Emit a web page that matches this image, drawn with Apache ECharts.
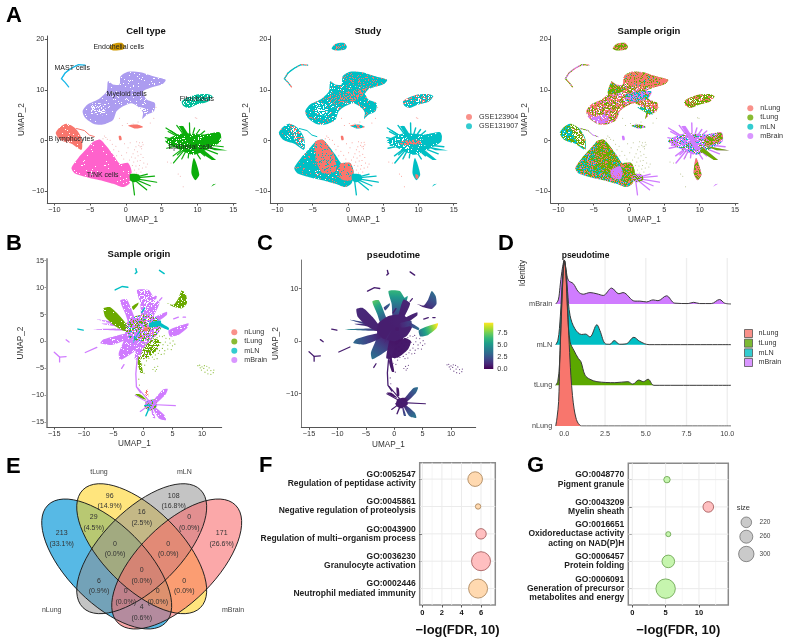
<!DOCTYPE html>
<html><head><meta charset="utf-8">
<style>html,body{margin:0;padding:0;background:#fff}#c{width:789px;height:638px}</style>
<script src="https://cdn.jsdelivr.net/npm/echarts@6/dist/echarts.min.js"></script>
</head><body><div id="c"></div>
<script>
// ---------- colours ----------
const cRed='#F8766D',cGreen='#6BAA00',cTeal='#00BFC4',cPurple='#D07CFF',white='#ffffff',none='rgba(255,255,255,0)';
// ---------- panel A: UMAP outlines (UMAP_1, UMAP_2) ----------
const myeloidOutline=[[-6.05,5.8],[-5.4,7.1],[-3.9,8.1],[-2.7,9.7],[-2.5,11.7],[-1.8,11.1],[-0.9,11.1],[-0.75,12.7],[0.3,13.6],[2,13.5],[4.05,12.6],[5.55,12],[5.2,11.25],[3.35,10.4],[2.4,9.7],[2.9,8.1],[4.05,7.4],[3.9,5.8],[2.9,5.1],[2.3,4.3],[2.4,5.5],[2,6.4],[0.8,7.4],[-0.4,6.8],[-1.3,5.8],[-1.8,4.1],[-3.2,3.2],[-4.55,3.35],[-5.7,4.5]];
const myeloidBand=[[-3,8.4],[-1,9.6],[1.5,10.2],[3,10.6],[2.4,9.3],[1.2,8],[-0.5,7.6],[-2,7.2]];
const myeloidUpper=[[-0.7,12.6],[0.3,13.5],[2,13.4],[4,12.6],[5.5,12],[5.1,11.3],[3.3,10.5],[1.5,10.6],[0,11.2]];
const myeloidLowerLeft=[[-5.8,5.2],[-4.6,4.8],[-3.4,5.2],[-2.8,4.2],[-3.4,3.4],[-4.6,3.5],[-5.6,4.5]];
const myeloidCentre=[[-0.5,9],[1,9.6],[3.2,9.7],[2.6,8.2],[1,7.7],[-0.3,7.8]];
const myeloidUpperLeft=[[-3,9.3],[-2.5,11.5],[-1.6,10.8],[-0.4,10.2],[-1.8,9.2]];
const myeloidHoles=[[-4.9,7.2],[-3.6,7.4],[-2.8,6.3],[-3.2,5],[-4.4,5.4]];
const myeloidTail=[[1.2,6.6],[2.6,6.4],[3.4,5.2],[2.6,5.4]];
const tnkOutline=[[-7.6,-5.4],[-6.65,-3.4],[-5.4,-1.45],[-4.65,-0.3],[-3.6,0.2],[-2.7,-1.1],[-1.8,-2.75],[-0.85,-4.55],[0.3,-4.4],[0.8,-6.05],[0.55,-8.35],[-0.35,-9.15],[-1.8,-8.5],[-3.6,-7.8],[-5.5,-7.2],[-7.1,-6.5]];
const tnkLobe=[[-4.7,-0.3],[-3.6,0.2],[-2.7,-1.1],[-1.9,-3],[-1.7,-6],[-3.5,-6.5],[-4.5,-4]];
const tnkLobe2=[[-1.2,-4.7],[0.3,-4.4],[0.8,-6.05],[0.5,-7.8],[-1,-7.5]];
const tnkPatch=[[-2.6,-5.9],[-1.3,-5],[-0.9,-6.2],[-1.2,-7.6],[-2.4,-7.2]];
const bOutline=[[-9.8,1.5],[-9.2,2.7],[-8.3,3.35],[-7.1,2.5],[-6.2,0.5],[-6.2,-1.8],[-7.6,-0.6],[-9.2,0.2]];
const bRight=[[-8.3,3.3],[-7.2,2.5],[-6.3,0.5],[-6.3,-1.5],[-7.4,-0.2],[-8,1.6]];
const bHook=[[-6.9,2.4],[-5.8,2],[-5.1,1.1],[-4.4,0.8]];
const endoOutline=[[-2.3,18.15],[-1.75,19.1],[-0.6,19.3],[-0.15,18.6],[-0.4,18],[-1.75,17.8]];
const mastArc=[[-5.7,14.9],[-6.65,15],[-7.6,14.3],[-8.5,13.35],[-9,12.25],[-8.5,11.5],[-8,10.6]];
const mastArcInner=[[-9,12.2],[-8.2,13.8],[-7,14.8]];
const fibroOutline=[[7.8,7.75],[8.5,8.4],[9.9,9.1],[11.3,9.2],[12.1,8.75],[11.5,7.75],[9.9,7.1],[8.75,6.45],[8,6.9]];
const epiHub=[[5.5,-0.1],[7.8,1.4],[10.8,1.2],[13.1,1.6],[13.25,-0.1],[11.8,-1.4],[9.44,-2.8],[7.57,-1.8]];
const epiRightBlob=[[10.6,0.4],[12.1,1],[12.9,1.7],[13.3,0.8],[12.9,-0.1],[11,-1]];
const epiThick=[[7.4,2.9],[8,2.9],[10.1,-1.7],[9.4,-2]];
const epiRightWedge=[[10.5,-0.9],[14.2,-1.95],[12.4,-1.9]];
const epiLowWedge=[[10.5,-1.4],[12.6,-3.8],[12,-3.8],[10,-2]];
const epiTeardrop=[[9.5,-3.4],[9.15,-6.4],[9.7,-7.8],[10.25,-6.7]];
const epiSpikeEnds=[[5.6,2.5],[6.2,2],[7.1,3],[7.8,2.8],[8.88,3.5],[9.6,2.5],[10.3,2.2],[11,1.9],[6.6,-3],[6.65,-4.4],[7.8,-3.6],[5.7,-1.5],[5.9,1.8],[11,-3],[10.4,-3.6],[8.7,-3.4],[7.2,-2.8],[5.5,0.6],[6,-0.9],[13.6,-1.2],[12.8,-2.6]];
const epiHubCentre=[8.95,-0.5];
const tHub=[[0.6,-6.6],[1.8,-6.7],[2,-7.7],[1.1,-8.2],[0.6,-7.8]];
const tHubCentre=[0.9,-7.4];
const tSpikeEnds=[[4,-7],[4.3,-8.2],[2.9,-9.7],[1.2,-10.7],[3,-6.6],[3.4,-8.9]];
const tinyWedge=[[0.3,3],[1.3,2.4],[2.4,2.7],[1.6,3.2]];
const tinyDot=[[-1,0.9],[-0.7,0.9],[-0.6,0.2],[-0.9,0.1]];
const tinyStrip=[[11.9,-9.1],[12.6,-8.5],[12.2,-8.6]];
const strayCellsA=[[1.2,-1.8],[1.6,-2.2],[2,-1.2],[2.2,-1.6],[1.8,-0.9],[1.4,-1.2],[2.4,-0.8],[1,-2.6],[0.8,-3.2],[1.3,-3.4],[1.7,-3],[2.1,-2.7],[0.5,-3.8],[1.1,-4.2],[1.6,-4],[2,-3.9],[2.4,-3.3],[0.9,-4.9],[1.4,-5],[1.9,-4.9],[2.5,-4.4],[1.2,-5.8],[1.8,-5.6],[2.3,-5.4],[2.8,-5.2],[3,-4.6],[1.5,-6.4],[2.1,-6.2],[-2.2,0.1],[-1.9,-0.7],[-1.4,-1.1],[-1.7,-1.8],[-1,-2.1],[-0.6,-2.9],[-1.3,-3],[-0.3,-3.6],[0.1,-2.4],[0.3,-1.4],[-0.2,-0.6],[0.6,-0.4],[-0.5,3],[0.2,3.4],[1,3.3],[1.7,3.7],[-0.9,4.4],[3.9,4.4],[3.4,3.5],[4.2,6.6],[5.8,-4.2],[6.3,-4.4],[7.6,-7],[8,-9.1],[7.3,-6.6],[9.7,4.5],[9.9,4.4],[8,-3.2],[1.5,-0.2],[1.9,-0.4],[2.2,-1.1],[2.3,-0.3],[-3,0.9],[-2.8,0.6],[-3.2,0.4],[-2.6,0.3]];
const cellTypeLabels=[[-1,18.55,'Endothelial cells'],[-7.5,14.35,'MAST cells'],[0.1,9.1,'Myeloid cells'],[9.9,8.3,'Fibroblasts'],[-7.65,0.3,'B lymphocytes'],[9.05,-1.25,'Epithelial cells'],[-3.25,-6.8,'T/NK cells']];
const studyNames=['GSE123904','GSE131907'];
const originNames=['nLung','tLung','mLN','mBrain'];
// ---------- panels B, C: outlines ----------
const upWedge=[[-1,9.55],[1,9.55],[1.8,8.3],[2.4,8.6],[1.5,5.2],[0.7,4],[-0.2,4],[-0.45,7.1]];
const upLeftWedge=[[-3.85,7.6],[-2.7,7.8],[-1.3,4.3],[-0.45,3.4],[-2.1,2.75],[-3,5.2]];
const lowLeftWedge=[[-2.7,2.45],[-0.2,2.15],[-0.45,-0.95],[-1.85,-2.2],[-3.85,-3.45],[-4.1,-2.2],[-3.3,0]];
const lowLeftStrip=[[-7.2,-0.35],[-6.65,0.4],[-2.7,1.5],[-2.4,0.6],[-5.25,-0.65]];
const rightWedge=[[7.7,3.4],[7.45,2.45],[6,1.2],[4.6,0.9],[4.35,2.1]];
const upRightWedge=[[1.6,7.9],[2.8,7.2],[1.6,4.4],[0.6,3.8]];
const rightUpWedge=[[1.25,4],[4.05,5.5],[4.05,4.9],[1.5,3.05]];
const lowMidWedge=[[-0.4,1.5],[1.6,1.5],[1.2,-1],[-0.6,-3.4],[-1.4,-3.2]];
const core=[[-2.8,3.4],[-1,4.8],[1.6,5],[3.2,3],[2.2,1],[0,0],[-2,0.5],[-3,1.8]];
const leftSpike1=[[-8.6,2.25],[-3,2.4],[-3,2]];
const leftSpike2=[[-7.8,4.1],[-2.7,3.1],[-2.7,2.5]];
const leftSpike4=[[-7,3.3],[-3,2.6],[-3,3.1]];
const bigGreenWedge=[[-6.65,6.15],[-5.5,6.35],[-3.8,4.6],[-2.7,3.05],[-2.1,1.8],[-3.5,2.1],[-4.95,3.05],[-6.4,4.6]];
const farGreenLobe=[[6.6,9.55],[7.3,8.6],[7.45,7.1],[6.6,6.15],[5.2,6.45],[4.05,7.1],[5.2,6.8],[6,8]];
const smallGreen=[[-1.85,6.45],[-0.75,7.25],[-0.85,6.75],[-1.6,5.85]];
const greenMid=[[-0.45,-3.1],[0.1,-1.3],[1.8,0.6],[2.95,0],[2.4,-1.6],[0.7,-3.1]];
const tealBar=[[1,3.4],[3,3.9],[3,3],[1.2,2.6]];
const tealStub=[[-0.4,2.3],[-0.6,1.8],[-1.7,-0.4],[-1.5,0.4]];
const tealStub2=[[2.6,3],[4.3,2.1],[4.4,2.5],[2.8,3.5]];
const tealStreaks=[[[-1.1,13],[-1.2,13.5]],[[-1.3,12.6],[-1,12.9]],[[2.8,13.2],[3.6,12.6]],[[-4.7,9.55],[-3.5,10.2],[-2.55,10.05]],[[-11,2.3],[-10.1,2.1]],[[1.2,-11.8],[0.3,-11.9]],[[0.5,-13.8],[1,-12.5]],[[0.3,6.2],[-0.2,5.4]]];
const brainStreaks=[[[-15,-2],[-14.1,-2.9],[-13,-2.8]],[[-14.1,-2.9],[-14.1,-3.8]],[[-9.75,-2.05],[-7.8,-1.1]],[[-13,0.3],[-12.5,-0.1]],[[-3.6,-5],[-3.2,-4.3]],[[5.2,4.2],[6,4.5]],[[6.8,4.5],[7.2,4.5]],[[2.8,7.6],[3.2,8.1]],[[-1,-3.5],[-1.2,-6],[-1.1,-8.4],[-0.4,-9.5]]];
const star1=[[1.4,-11.5],[3.4,-8.9],[4.2,-8.8],[3.8,-9.9],[1.7,-12]];
const star2=[[1.4,-11.7],[2.7,-14.3],[3.9,-14.6],[3.6,-13.6]];
const star3=[[1.3,-11.7],[1.7,-14.2],[2.1,-14.2]];
const starHub=[[0.6,-11],[2,-10.8],[2.4,-12],[1.2,-12.8],[0.3,-12.2]];
const starSpikes=[[[1.4,-11.7],[5.5,-11.9]],[[1.2,-11.7],[-0.45,-13]],[[1.4,-11.5],[-0.9,-8.6]],[[1.2,-11.5],[-1.3,-10]]];
const greenStalk=[[-0.6,-2.4],[-0.3,-4],[0,-5.8],[-0.4,-5.8],[-0.9,-4]];
const greenStarBit=[[-1.3,-9.8],[-0.5,-9.8],[0.6,-10.8],[-0.2,-10.6]];
const redStarBit=[[0.4,-8.8],[0.8,-9],[0.9,-10.4],[0.5,-10.4]];
const redCoreBit=[[0.2,2.6],[0.8,2.6],[0.8,2],[0.2,2]];
const sparseCells=[[0.4,-0.5],[0.8,-1.1],[1.3,-0.4],[1.7,-0.9],[2.1,-0.2],[2.6,-0.7],[3,-0.2],[3.4,-0.6],[3.8,-0.1],[4.2,-0.7],[4.6,-0.3],[5,-0.8],[5.4,-0.5],[5.1,0.1],[4.5,0.5],[3.9,0.6],[3.3,0.9],[2.8,1],[2.4,0.7],[1.9,0.3],[0.9,0.2],[3.6,1.1],[0.3,-1.5],[0.8,-1.9],[1.3,-1.5],[1.8,-1.8],[2.3,-1.4],[2.8,-1.7],[3.3,-1.3],[3.7,-1.7],[4.2,-1.4],[4.8,-1.5],[0.2,-2.4],[0.7,-2.8],[1.2,-2.4],[1.6,-2.9],[2.1,-2.5],[2.6,-2.2],[3.1,-2.4],[3.6,-2.3],[0.1,-3.2],[0.6,-3.6],[1,-3.1],[1.9,-3.3],[2.4,-3.2],[-0.2,-4.2],[0.3,-4.4],[-0.5,-5],[2,-4.8],[2.3,-5.2],[2.5,-4.6],[2.1,-5.5],[1.7,-5.2],[-0.3,-5.4],[0.2,-5.9],[-0.7,-7],[-0.6,-8.1],[9.3,-4.5],[9.6,-4.4],[10,-4.7],[10.4,-4.5],[9.7,-4.9],[10.3,-5],[10.8,-4.6],[11.2,-4.9],[11.5,-5.4],[11.9,-5.8],[11.5,-6.1],[11,-6],[10.5,-5.7],[10.9,-5.3],[9.9,-5.3],[12,-5.3]];
// ---------- panel D: ridge densities ----------
const ridgeNLung=[[-0.53,0],[-0.45,0.2],[-0.35,0.6],[-0.28,1.6],[-0.2,2.6],[-0.1,3.6],[0,4.08],[0.1,3.75],[0.2,2.9],[0.3,2],[0.4,1.25],[0.5,0.75],[0.6,0.42],[0.7,0.22],[0.8,0.1],[0.95,0.02],[1.05,0],[10.23,0]];
const ridgeTLung=[[-0.53,0],[-0.4,0.1],[-0.3,0.5],[-0.2,1.5],[-0.1,2.5],[0,3.08],[0.1,2.7],[0.2,1.8],[0.35,1.07],[0.6,0.85],[0.86,0.66],[1.02,0.58],[1.27,0.25],[1.57,0.15],[2,0.09],[3.1,0.065],[3.9,0.09],[4.2,0.03],[4.57,0.13],[4.85,0.09],[5.14,0.15],[5.5,0],[10.23,0]];
const ridgeMLN=[[-0.53,0],[-0.4,0.1],[-0.3,0.4],[-0.2,1],[-0.1,1.7],[0,2.07],[0.1,1.85],[0.2,1.3],[0.35,0.72],[0.65,0.39],[1.06,0.25],[1.3,0.26],[1.57,0.19],[2,0.49],[2.18,0.35],[2.53,0.02],[2.8,0.01],[3.06,0.1],[3.4,0.01],[3.8,0.02],[4.27,0.18],[4.63,0.08],[5.2,0],[10.23,0]];
const ridgeMBrain=[[-0.53,0],[-0.37,0.1],[-0.27,0.4],[-0.15,0.8],[0,1.07],[0.1,0.85],[0.25,0.58],[0.55,0.5],[0.86,0.3],[1.16,0.24],[1.57,0.28],[2,0.25],[2.39,0.21],[2.9,0.39],[3.35,0.25],[3.6,0.28],[4.33,0.07],[4.63,0.07],[5.04,0.05],[5.45,0.1],[5.75,0.08],[6.27,0.2],[6.78,0.02],[7.6,0.01],[7.94,0.04],[8.3,0.01],[9.02,0.01],[9.53,0.11],[9.84,0.02],[10.23,0]];
// ---------- panel E: Venn counts ----------
const vennRegionText=['213\n(33.1%)','96\n(14.9%)','29\n(4.5%)','108\n(16.8%)','16\n(2.5%)','0\n(0.0%)','171\n(26.6%)','0\n(0.0%)','0\n(0.0%)','0\n(0.0%)','6\n(0.9%)','0\n(0.0%)','0\n(0.0%)','0\n(0.0%)','4\n(0.6%)'];
const vennSets=['nLung','tLung','mLN','mBrain'];
// ---------- panels F, G: enrichment ----------
const fTerms=['GO:0052547\nRegulation of peptidase activity','GO:0045861\nNegative regulation of proteolysis','GO:0043900\nRegulation of multi\u2212organism process','GO:0036230\nGranulocyte activation','GO:0002446\nNeutrophil mediated immunity'];
const fFdr=[5.4,5.7,6.0,6.0,5.7];
const fSize=[287,133,217,360,360];
const gTerms=['GO:0048770\nPigment granule','GO:0043209\nMyelin sheath','GO:0016651\nOxidoreductase activity\nacting on NAD(P)H','GO:0006457\nProtein folding','GO:0006091\nGeneration of precursor\nmetabolites and energy'];
const gFdr=[5.2,11.4,5.4,5.4,5.0];
const gSize=[150,220,127,253,367];
const sizeLegendValues=[220,260,300];
const pseudotimeTicks=[0,2.5,5,7.5];
// ------------------------------------------------------------------
const sans='"Liberation Sans",Arial,sans-serif';
const tileCache={};
function tile(mix){
  const key=JSON.stringify(mix); if(tileCache[key])return tileCache[key];
  const n=61,cv=document.createElement('canvas');cv.width=cv.height=n;const x=cv.getContext('2d');
  let state=key.length*7919+17;
  const total=mix.reduce((a,m)=>a+m[1],0);
  for(let i=0;i<n;i++)for(let j=0;j<n;j++){
    state^=state<<13;state^=state>>>17;state^=state<<5;state|=0;
    let u=((state>>>0)%10000)/10000*total,k=0;
    while(k<mix.length-1&&u>mix[k][1]){u-=mix[k][1];k++;}
    x.fillStyle=mix[k][0];x.fillRect(i,j,1,1);
  }
  return tileCache[key]={image:cv,repeat:'repeat'};
}
const paint=m=>Array.isArray(m)?tile(m):m;
const series=[];
function poly(g,pts,fill,smooth){
  series.push({type:'custom',coordinateSystem:'cartesian2d',xAxisIndex:g,yAxisIndex:g,silent:true,clip:false,
    data:[pts[0]],encode:{x:0,y:1},renderItem:(p,api)=>({type:'polygon',shape:{points:pts.map(q=>api.coord(q)),smooth:smooth===undefined?0.25:smooth},style:{fill:paint(fill),stroke:null}})});
}
function stroke(g,pts,col,w){
  series.push({type:'custom',coordinateSystem:'cartesian2d',xAxisIndex:g,yAxisIndex:g,silent:true,clip:false,
    data:[pts[0]],encode:{x:0,y:1},renderItem:(p,api)=>({type:'polyline',shape:{points:pts.map(q=>api.coord(q))},style:{fill:null,stroke:paint(col),lineWidth:w,lineCap:'round'}})});
}
function spikes(g,c,ends,col,w){ends.forEach(e=>stroke(g,[c,e],col,w));}
function dots(g,pts,col,size){series.push({type:'scatter',xAxisIndex:g,yAxisIndex:g,silent:true,data:pts,symbolSize:size,itemStyle:{color:col}});}
function texts(g,rows,font,col,lh){
  series.push({type:'custom',coordinateSystem:'cartesian2d',xAxisIndex:g,yAxisIndex:g,silent:true,clip:false,z:5,
    data:rows.map(r=>[r[0],r[1]]),encode:{x:0,y:1},renderItem:(p,api)=>{const c=api.coord(rows[p.dataIndex]);
      return {type:'text',x:c[0],y:c[1],style:{text:rows[p.dataIndex][2],font:font,fill:col,align:'center',verticalAlign:'middle',lineHeight:lh||undefined}};}});
}
function rules(g,xs,ys,xr,yr,col,w){
  const rows=xs.map(v=>[v,yr[0],v,yr[1]]).concat(ys.map(v=>[xr[0],v,xr[1],v]));
  series.push({type:'custom',coordinateSystem:'cartesian2d',xAxisIndex:g,yAxisIndex:g,silent:true,clip:false,
    data:rows.map(r=>[r[0],r[1]]),encode:{x:0,y:1},renderItem:(p,api)=>{const r=rows[p.dataIndex],a=api.coord([r[0],r[1]]),b=api.coord([r[2],r[3]]);
      return {type:'line',shape:{x1:a[0],y1:a[1],x2:b[0],y2:b[1]},style:{stroke:col,lineWidth:w}};}});
}
function legendStub(g,name,col){series.push({type:'scatter',name,data:[],xAxisIndex:g,yAxisIndex:g,itemStyle:{color:col}});}

// ---------- axes / grids ----------
const grids=[],xAxes=[],yAxes=[];
const minus=v=>String(v).replace('-','\u2212');
function axisCommon(ticks,lineCol,lineW,name,gap){
  return {type:'value',name:name,nameLocation:'middle',nameGap:gap,nameTextStyle:{fontFamily:sans,fontSize:8.2,color:'#333'},
    splitLine:{show:false},axisLine:{show:true,onZero:false,lineStyle:{color:lineCol||'#555',width:lineW||1}},
    axisTick:{show:true,length:2.5,customValues:ticks,lineStyle:{color:lineCol||'#555'}},
    axisLabel:{customValues:ticks,formatter:minus,fontFamily:sans,fontSize:7.3,color:'#333',margin:3,showMinLabel:true,showMaxLabel:true}};
}
function umapGrid(l,r,t,b,xr,yr,xt,yt,yName,yGap,yLine,yW){
  grids.push({left:l,top:t,width:r-l,height:b-t,show:false});
  xAxes.push(Object.assign(axisCommon(xt,'#555',1,'UMAP_1',13),{min:xr[0],max:xr[1],gridIndex:grids.length-1}));
  yAxes.push(Object.assign(axisCommon(yt,yLine||'#555',yW||1,yName,yGap),{min:yr[0],max:yr[1],gridIndex:grids.length-1}));
}
const t5=[-10,-5,0,5,10,15],ty=[-10,0,10,20];
umapGrid(47.3,236,36,203,[-10.98,15.38],[-12.3,20.65],t5,ty,'UMAP_2',22);  //0
umapGrid(270.3,456.7,36,203,[-11,15.42],[-12.3,20.65],t5,ty,'UMAP_2',21);  //1
umapGrid(550.7,738,36,203,[-11.08,15.42],[-12.3,20.65],t5,ty,'UMAP_2',22); //2
umapGrid(47,221.7,259,427,[-16.23,13.33],[-15.87,15.3],[-15,-10,-5,0,5,10],[-15,-10,-5,0,5,10,15],'UMAP_2',22,'#999',2); //3
umapGrid(301.3,475.7,260,427.3,[-16.36,14.35],[-16.4,15.47],[-15,-10,-5,0,5,10],[-10,0,10],'UMAP_2',22,'#777',1); //4
// D ridge
grids.push({left:555.7,top:258,width:175.3,height:168,show:false});
xAxes.push({type:'value',gridIndex:5,min:-0.53,max:10.23,splitLine:{show:false},axisLine:{show:false},axisTick:{show:false},
  axisLabel:{customValues:[0,2.5,5,7.5,10],formatter:v=>v.toFixed(1),fontFamily:sans,fontSize:7.3,color:'#444',margin:4}});
yAxes.push({type:'value',gridIndex:5,min:0,max:4.13,splitLine:{show:false},axisLine:{show:false},axisTick:{show:false},
  axisLabel:{customValues:[0,1,2,3],formatter:v=>originNames[v],fontFamily:sans,fontSize:7.3,color:'#444',margin:3.5,padding:[0,0,4,0]}});
// colourbar
grids.push({left:484,top:322.7,width:9.3,height:46.3,show:false});
xAxes.push({type:'category',gridIndex:6,data:['pseudotime'],show:false});
yAxes.push({type:'value',gridIndex:6,min:0,max:9.75,position:'right',splitLine:{show:false},axisLine:{show:false},axisTick:{show:false},
  axisLabel:{customValues:pseudotimeTicks,formatter:v=>v.toFixed(1),fontFamily:sans,fontSize:7.3,color:'#333',margin:4}});
// page grid (Venn, size legend)
grids.push({left:0,top:0,width:789,height:638,show:false});
xAxes.push({type:'value',gridIndex:7,min:0,max:789,show:false});
yAxes.push({type:'value',gridIndex:7,min:0,max:638,inverse:true,show:false});
// F, G
function goGrid(l,r,t,b,xr,xt,terms){
  const g=grids.length;
  grids.push({left:l,top:t,width:r-l,height:b-t,show:true,borderColor:'#8a8a8a',borderWidth:1.5,backgroundColor:'#fff',z:0});
  xAxes.push({type:'value',gridIndex:g,min:xr[0],max:xr[1],name:'\u2212log(FDR, 10)',nameLocation:'middle',nameGap:19,
    nameTextStyle:{fontFamily:sans,fontSize:13,fontWeight:'bold',color:'#111'},splitLine:{show:false},axisLine:{show:false},
    axisTick:{show:true,customValues:xt,length:2.5,lineStyle:{color:'#555'}},
    axisLabel:{customValues:xt,fontFamily:sans,fontSize:7.5,fontWeight:'bold',color:'#111',margin:4}});
  yAxes.push({type:'value',gridIndex:g,min:0.4,max:5.6,inverse:true,splitLine:{show:false},axisLine:{show:false},
    axisTick:{show:true,customValues:[1,2,3,4,5],length:3,lineStyle:{color:'#333'}},
    axisLabel:{customValues:[1,2,3,4,5],formatter:v=>terms[v-1],fontFamily:sans,fontSize:8.5,fontWeight:'bold',color:'#222',lineHeight:9.2,margin:4,align:'right'}});
  return g;
}
const gF=goGrid(419.7,495.3,462.7,609,[-0.27,7.46],[0,2,4,6],fTerms);
const gG=goGrid(628.3,728.3,463.3,609.3,[-0.6,14.4],[0,5,10],gTerms);

// ---------- A1 Cell type ----------
const cMy='#AC9CF0',cTnk='#FF62CC',cEpi='#0BAD0B',cEndo='#CF9800',cMast='#18B7E8',cFib='#00BF9C';
poly(0,bOutline,[[cRed,.95],[white,.05]]);stroke(0,bHook,cRed,1);
poly(0,myeloidOutline,[[cMy,.95],[white,.05]]);
poly(0,myeloidHoles,[[none,.7],[white,.3]]);poly(0,myeloidTail,[[none,.55],[white,.45]]);
poly(0,tnkOutline,[[cTnk,.97],[white,.03]]);
poly(0,endoOutline,cEndo);stroke(0,mastArc,cMast,1.3);stroke(0,mastArcInner,cMast,.7);
poly(0,fibroOutline,[[cFib,.8],[white,.2]]);
poly(0,tinyWedge,cRed);poly(0,tinyDot,cRed);dots(0,strayCellsA,'#E89090',1);
function epi(g,col,w,hubFill){spikes(g,epiHubCentre,epiSpikeEnds,col,w);poly(g,epiHub,hubFill||col);poly(g,epiRightBlob,col);poly(g,epiThick,col,0);poly(g,epiRightWedge,col,0);poly(g,epiLowWedge,col,0);poly(g,epiTeardrop,col);poly(g,tinyStrip,col,0);}
epi(0,cEpi,1.2,[[cEpi,.88],[white,.12]]);
spikes(0,tHubCentre,tSpikeEnds,cEpi,1.2);poly(0,tHub,cEpi);
texts(0,cellTypeLabels,'7px '+sans,'#222');
// ---------- A2 Study ----------
poly(1,bOutline,[[cTeal,.9],[cRed,.05],[white,.05]]);poly(1,bRight,[[cTeal,.5],[cRed,.3],[white,.2]]);stroke(1,bHook,cTeal,1);
poly(1,myeloidOutline,[[cTeal,.84],[cRed,.08],[white,.08]]);poly(1,myeloidHoles,[[none,.7],[white,.3]]);
poly(1,myeloidBand,[[cTeal,.65],[cRed,.35]]);poly(1,myeloidUpper,[[cTeal,.82],[cRed,.18]]);
poly(1,tnkOutline,[[cTeal,.88],[cRed,.09],[white,.03]]);poly(1,tnkLobe,[[cRed,.85],[cTeal,.15]]);poly(1,tnkLobe2,[[cRed,.88],[cTeal,.12]]);
poly(1,endoOutline,[[cTeal,.75],[cRed,.25]]);stroke(1,mastArc,[[cTeal,.7],[cRed,.3]],1.3);stroke(1,mastArcInner,cTeal,.7);
poly(1,fibroOutline,[[cTeal,.65],[cRed,.2],[white,.15]]);poly(1,tinyWedge,[[cTeal,.5],[cRed,.5]]);poly(1,tinyDot,cRed);
dots(1,strayCellsA,cRed,1);
epi(1,cTeal,1.4,[[cTeal,.85],[white,.15]]);poly(1,[[7,-0.3],[9.8,0.2],[10.5,-0.5],[8,-0.9]],[[cRed,.7],[cTeal,.3]]);poly(1,[[9.6,-6.6],[10,-6.9],[9.9,-7.5],[9.6,-7.4]],cRed);
spikes(1,tHubCentre,tSpikeEnds,cTeal,1.3);poly(1,tHub,cTeal);
studyNames.forEach((n,i)=>legendStub(1,n,[cRed,cTeal][i]));
// ---------- A3 Sample origin ----------
poly(2,bOutline,[[cTeal,.55],[cGreen,.35],[white,.1]]);poly(2,bRight,[[cGreen,.55],[white,.35],[cRed,.1]]);stroke(2,bHook,[[cPurple,.5],[cGreen,.5]],1);
poly(2,myeloidOutline,[[cRed,.48],[cGreen,.3],[white,.12],[cPurple,.1]]);
poly(2,myeloidUpper,[[cRed,.75],[cGreen,.22],[cTeal,.03]]);
poly(2,myeloidUpperLeft,[[cGreen,.75],[cRed,.2],[cTeal,.05]]);
poly(2,myeloidLowerLeft,[[cPurple,.72],[cRed,.18],[white,.1]]);
poly(2,myeloidCentre,[[cTeal,.35],[cPurple,.4],[cGreen,.15],[cRed,.1]]);
poly(2,myeloidTail,[[cTeal,.6],[cGreen,.3],[white,.1]]);
poly(2,tnkOutline,[[cGreen,.4],[cRed,.25],[cTeal,.3],[cPurple,.05]]);
poly(2,tnkLobe,[[cGreen,.72],[cRed,.2],[cTeal,.08]]);
poly(2,tnkLobe2,[[cGreen,.6],[cRed,.3],[cTeal,.1]]);
poly(2,tnkPatch,[[cPurple,.9],[cRed,.1]]);
poly(2,endoOutline,[[cGreen,.6],[cRed,.4]]);stroke(2,mastArc,[[cGreen,.5],[cRed,.3],[cPurple,.2]],1.3);stroke(2,mastArcInner,cPurple,.7);
poly(2,fibroOutline,[[cGreen,.55],[cRed,.3],[white,.15]]);poly(2,tinyWedge,[[cGreen,.5],[cTeal,.2],[cPurple,.3]]);poly(2,tinyDot,cPurple);
dots(2,strayCellsA,'#9AA860',1);
epi(2,cPurple,1.4,[[cPurple,.6],[cTeal,.15],[cGreen,.15],[white,.1]]);
poly(2,epiRightBlob,[[cGreen,.55],[cRed,.35],[cPurple,.1]]);poly(2,epiRightWedge,cGreen,0);poly(2,epiLowWedge,cGreen,0);poly(2,epiTeardrop,[[cRed,.6],[cGreen,.4]]);
spikes(2,tHubCentre,tSpikeEnds,cPurple,1.3);poly(2,tHub,[[cPurple,.6],[cGreen,.4]]);
originNames.forEach((n,i)=>legendStub(2,n,[cRed,cGreen,cTeal,cPurple][i]));

// ---------- B, C ----------
const viridisStops=['#440154','#482878','#3e4989','#31688e','#26828e','#1f9e89','#35b779','#6ece58','#b5de2b','#fde725'];
function viridis(t){const u=Math.max(0,Math.min(.9999,t/9.6))*9,i=Math.floor(u),f=u-i;
  const h=s=>[1,3,5].map(k=>parseInt(s.substr(k,2),16)),a=h(viridisStops[i]),b=h(viridisStops[i+1]);
  return 'rgb('+a.map((v,k)=>Math.round(v+(b[k]-v)*f)).join(',')+')';}
function timeGradient(root,tip,t0,t1){return {root,tip,t0,t1};}
function timed(g,pts,grad,smooth){
  series.push({type:'custom',coordinateSystem:'cartesian2d',xAxisIndex:g,yAxisIndex:g,silent:true,clip:false,data:[pts[0]],encode:{x:0,y:1},
    renderItem:(p,api)=>{const a=api.coord(grad.root),b=api.coord(grad.tip),st=[];for(let k=0;k<=5;k++)st.push({offset:k/5,color:viridis(grad.t0+(grad.t1-grad.t0)*k/5)});
      return {type:'polygon',shape:{points:pts.map(q=>api.coord(q)),smooth:smooth===undefined?0.2:smooth},style:{fill:new echarts.graphic.LinearGradient(a[0],a[1],b[0],b[1],st,true),stroke:null}};}});
}
const speckBrain=[[cPurple,.93],[white,.07]];
const bcShapes=[
 [upWedge,[[cPurple,.75],[white,.25]],[0,4],[0.2,9.5],0.9,6.2],
 [upLeftWedge,speckBrain,[-1,3],[-3.4,7.7],0.9,7],
 [lowLeftWedge,speckBrain,[-1,1],[-3.8,-3.3],0.6,3.6],
 [lowLeftStrip,speckBrain,[-2.6,1],[-7,0],0.9,3.2],
 [lowMidWedge,[[cPurple,.8],[white,.2]],[0,1],[-1,-3.2],0.5,0.8],
 [rightWedge,speckBrain,[3.8,1.4],[7.6,3],2.6,9.6],
 [upRightWedge,[[cPurple,.8],[white,.2]],[0.7,3.5],[2.2,7.6],0.7,1],
 [rightUpWedge,speckBrain,[1,3],[4,5.2],0.7,1],
 [leftSpike1,speckBrain,[-2.7,2.1],[-8.6,2.1],1,5],
 [leftSpike2,speckBrain,[-3,2.7],[-7.8,4],0.9,2.6],
 [leftSpike4,speckBrain,[-3,2.8],[-7,3.3],0.9,1.6],
 [bigGreenWedge,[[cGreen,.97],[white,.03]],[-2.2,2],[-6.7,6],0.9,1.1],
 [farGreenLobe,[[cGreen,.85],[white,.15]],[5,6.6],[6.7,9.4],0.9,3.4],
 [smallGreen,cGreen,[-1.9,5.9],[-0.7,7.3],1.6,3.4],
 [greenMid,[[cGreen,.5],[white,.45],[cPurple,.05]],[0,0],[3,-2],0.6,0.7],
 [core,[[cPurple,.5],[cGreen,.24],[cTeal,.08],[cRed,.05],[white,.13]],[0,2],[3,4],0.8,0.9],
 [tealBar,cTeal,[1,3],[3,3.4],0.9,2],
 [tealStub,cTeal,[-0.5,2],[-1.7,0],0.9,1],
 [tealStub2,cTeal,[2.6,3],[4.3,2.2],1.5,3.6],
 [star1,speckBrain,[1.5,-11.5],[4,-9],0.6,3.4],
 [star2,speckBrain,[1.5,-11.8],[3.5,-14.4],0.6,3.6],
 [star3,speckBrain,[1.4,-11.8],[1.9,-14.2],0.6,2.4],
 [starHub,[[cPurple,.7],[cGreen,.2],[cTeal,.1]],[1,-11],[1,-12],0.7,0.7],
 [greenStalk,[[cGreen,.8],[white,.2]],[0,-2],[0,-6],0.6,0.6],
 [greenStarBit,cGreen,[0,-10],[-1,-10],0.6,0.6],
 [redStarBit,[[cRed,.6],[white,.4]],[0,-9],[0,-10],0.6,0.6],
 [redCoreBit,cRed,[0,2],[1,2],0.7,0.7]
];
bcShapes.forEach(s=>{poly(3,s[0],s[1],0.2);timed(4,s[0],timeGradient(s[2],s[3],s[4],s[5]));});
brainStreaks.forEach(s=>{stroke(3,s,cPurple,1.3);stroke(4,s,viridis(.8),1.3);});
starSpikes.forEach(s=>{stroke(3,s,cPurple,1.1);stroke(4,s,viridis(.8),1.1);});
tealStreaks.forEach(s=>{stroke(3,s,cTeal,1.4);stroke(4,s,viridis(.8),1.4);});
dots(3,sparseCells,cGreen,1.2);dots(4,sparseCells,viridis(.6),1.2);
originNames.forEach((n,i)=>legendStub(3,n,[cRed,cGreen,cTeal,cPurple][i]));
// colourbar as a value bar on its own axis
series.push({type:'bar',xAxisIndex:6,yAxisIndex:6,data:[9.75],barWidth:'100%',silent:true,
  itemStyle:{color:new echarts.graphic.LinearGradient(0,1,0,0,viridisStops.map((c,i)=>({offset:i/9,color:c})))}});

// ---------- D ridges ----------
rules(5,[0,2.5,5,7.5,10],[],[-0.53,10.23],[0,4.13],'#eeeeee',1.3);
const ridgeCols=[cRed,'#5BA800',cTeal,cPurple];
[[ridgeMBrain,3,3],[ridgeMLN,2,2],[ridgeTLung,1,1],[ridgeNLung,0,0]].forEach(r=>{
  series.push({type:'line',name:'ridge '+originNames[r[1]],xAxisIndex:5,yAxisIndex:5,showSymbol:false,symbol:'none',smooth:0.35,silent:true,
    data:r[0].map(p=>[p[0],p[1]+r[2]]),lineStyle:{color:'#3a3a3a',width:1},itemStyle:{color:ridgeCols[r[1]]},
    areaStyle:{color:ridgeCols[r[1]],opacity:1,origin:r[2]}});
});
originNames.forEach((n,i)=>legendStub(5,'d'+n,ridgeCols[i]));

// ---------- E Venn ----------
const vennFill=[['#0094D8',.66],['#FFD21F',.58],['#8E8E8E',.52],['#F8696B',.58]];
const vennEllipses=[[106.7,564,83.2,39,1],[141.7,548.7,83.2,39,1],[141.7,548.7,83.2,39,-1],[176.7,564,83.2,39,-1]];
function vennLayer(styleOf){series.push({type:'custom',coordinateSystem:'cartesian2d',xAxisIndex:7,yAxisIndex:7,silent:true,clip:false,
  data:vennEllipses.map(e=>[e[0],e[1]]),encode:{x:0,y:1},renderItem:(p,api)=>{const e=vennEllipses[p.dataIndex],c=api.coord([e[0],e[1]]);
    return {type:'ellipse',x:c[0],y:c[1],rotation:-e[4]*Math.PI/4,shape:{cx:0,cy:0,rx:e[2],ry:e[3]},style:styleOf(p.dataIndex)};}});}
vennLayer(i=>({fill:vennFill[i][0],opacity:vennFill[i][1]}));
vennLayer(i=>({fill:null,stroke:'#1a1a1a',lineWidth:.9}));
const vennAnchors=[[61.7,538.3],[109.7,501],[93.7,522.7],[173.7,501],[141.7,517.3],[189.3,522.7],[221.7,538.3],[115,549],[168.3,549],[141.7,575.7],[99,586],[184.3,586],[125.7,596.7],[157.7,596.7],[141.7,612.7]];
texts(7,vennRegionText.map((t,i)=>[vennAnchors[i][0],vennAnchors[i][1],t]),'7px '+sans,'#333',10.7);
const vennSetAnchors=[[51.7,610.3],[99,472.3],[184.3,472.3],[233,610.3]];
texts(7,vennSets.map((t,i)=>[vennSetAnchors[i][0],vennSetAnchors[i][1],t]),'7px '+sans,'#444');

// ---------- F, G ----------
const dia=s=>Math.max(4,10.6+(s-220)*0.06);
function bubbles(g,xs,sizes,fills,borders,minor,major,xr){
  rules(g,minor,[],xr,[0.4,5.6],'#f4f4f4',.8);
  rules(g,major,[1,2,3,4,5],xr,[0.4,5.6],'#ebebeb',1);
  series.push({type:'scatter',xAxisIndex:g,yAxisIndex:g,silent:true,z:3,
    data:xs.map((x,i)=>({value:[x,i+1],symbolSize:dia(sizes[i]),itemStyle:{color:fills[i],borderColor:borders[i],borderWidth:.9,opacity:1}}))});
}
const peach='#FFD9B0',peachB='#B08A60',rose='#FFBFC0',roseB='#A86060',lime='#C6F5AE',limeB='#6FA855';
bubbles(gF,fFdr,fSize,[peach,peach,rose,rose,peach],[peachB,peachB,roseB,roseB,peachB],[1,3,5,7],[0,2,4,6],[-0.27,7.46]);
bubbles(gG,gFdr,gSize,[lime,rose,lime,lime,lime],[limeB,roseB,limeB,limeB,limeB],[2.5,7.5,12.5],[0,5,10],[-0.6,14.4]);
// size legend
texts(7,[[743.3,508,'size']],'7.5px '+sans,'#333');
const sizeRowY=[522.3,536.7,554];
series.push({type:'scatter',xAxisIndex:7,yAxisIndex:7,silent:true,z:3,
  data:sizeLegendValues.map((s,i)=>({value:[746.3,sizeRowY[i]],symbolSize:dia(s),itemStyle:{color:'#BDBDBD',borderColor:'#555',borderWidth:.8}}))});
texts(7,sizeLegendValues.map((s,i)=>[765,sizeRowY[i],String(s)]),'6.5px '+sans,'#444');
// Identity label for D
series.push({type:'custom',coordinateSystem:'cartesian2d',xAxisIndex:7,yAxisIndex:7,silent:true,clip:false,data:[[522.3,273]],encode:{x:0,y:1},
  renderItem:(p,api)=>{const c=api.coord([522.3,273]);return {type:'text',x:c[0],y:c[1],rotation:Math.PI/2,style:{text:'Identity',font:'8.2px '+sans,fill:'#333',align:'center',verticalAlign:'middle'}};}});

// ---------- titles & letters ----------
const bold=(t,x,y,fs,col,al)=>({text:t,left:x,top:y-fs/2-1,textAlign:al||'center',textStyle:{fontFamily:sans,fontSize:fs,fontWeight:'bold',color:col||'#111'}});
const titles=[bold('Cell type',141,26.7,9.5),bold('Study',363,26.7,9.5),bold('Sample origin',644,26.7,9.5),
 bold('Sample origin',134,250.5,9.5),bold('pseudotime',388.5,251,9.5),bold('pseudotime',556.7,251.5,8.5,'#111','left'),
 bold('A',1,12,22,'#000','left'),bold('B',1,240,22,'#000','left'),bold('C',252,240,22,'#000','left'),bold('D',493,240,22,'#000','left'),
 bold('E',1,463,22,'#000','left'),bold('F',254,462,22,'#000','left'),bold('G',522,462,22,'#000','left')];
const lg=(names,x,y,gap,icon,sz,extra)=>Object.assign({left:x,top:y,orient:'vertical',icon:icon,itemWidth:sz,itemHeight:sz,itemGap:gap,data:names,selectedMode:false,padding:0,
  textStyle:{fontFamily:sans,fontSize:7.2,lineHeight:8,color:'#333',padding:[0,0,0,2]}},extra||{});
const legends=[
 lg(studyNames,466,113,1.2,'circle',6),
 lg(originNames,747.3,104.3,1.2,'circle',6),
 lg(originNames,231.3,328.3,1.2,'circle',6),
 lg(originNames.map(n=>'d'+n),744,329,0.67,'rect',8,{formatter:n=>n.slice(1),itemStyle:{borderColor:'#555',borderWidth:1},textStyle:{fontFamily:sans,fontSize:7.2,lineHeight:8,color:'#333',padding:[0,0,0,1]}})
];
const chart=echarts.init(document.getElementById('c'),null,{renderer:'canvas',width:789,height:638});
chart.setOption({animation:false,backgroundColor:'#fff',title:titles,legend:legends,grid:grids,xAxis:xAxes,yAxis:yAxes,series:series});
</script></body></html>
